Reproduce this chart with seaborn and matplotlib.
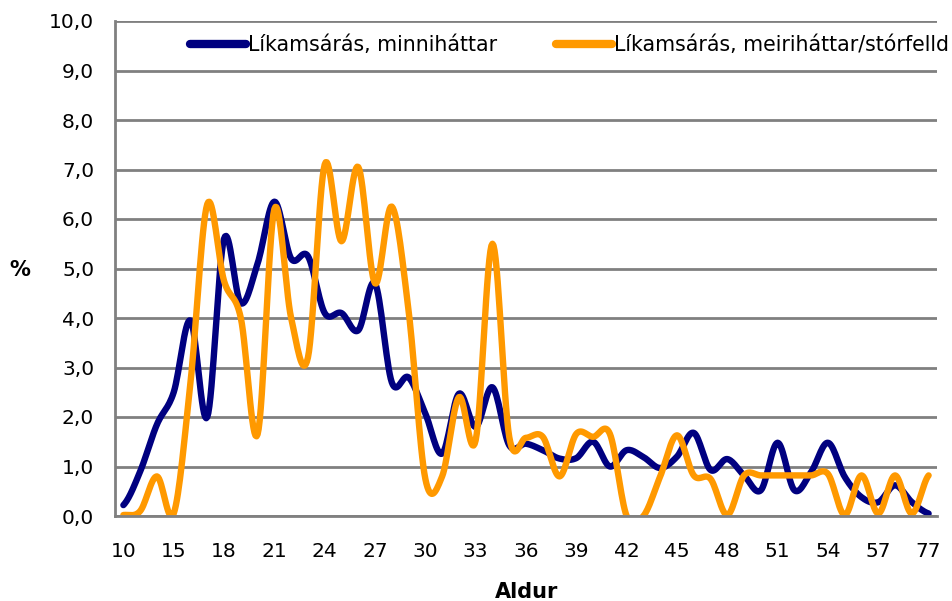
import numpy as np
import pandas as pd
import seaborn as sns
import matplotlib
matplotlib.use("Agg")
import matplotlib.pyplot as plt

# ---- data ----
ages = [10, 13, 14, 15, 16, 17, 18, 19, 20, 21, 22, 23, 24, 25, 26, 27, 28, 29,
        30, 31, 32, 33, 34, 35, 36, 37, 38, 39, 40, 41, 42, 43, 44, 45, 46, 47,
        48, 49, 50, 51, 52, 53, 54, 55, 56, 57, 60, 65, 77]
label_minor = "Líkamsárás, minniháttar"
label_major = "Líkamsárás, meiriháttar/stórfelld"
minor_vals = [0.22, 0.9, 1.85, 2.5, 3.95, 2.0, 5.6, 4.3, 5.1, 6.35, 5.2, 5.25,
              4.1, 4.1, 3.75, 4.7, 2.7, 2.8, 2.07, 1.26, 2.47, 1.8, 2.6, 1.43,
              1.46, 1.33, 1.16, 1.17, 1.5, 1.0, 1.33, 1.19, 0.97, 1.2, 1.68,
              0.93, 1.15, 0.82, 0.52, 1.48, 0.52, 0.89, 1.48, 0.79, 0.38, 0.28,
              0.62, 0.28, 0.05]
major_vals = [0.02, 0.1, 0.8, 0.05, 2.7, 6.3, 4.75, 4.0, 1.65, 6.2, 4.0, 3.2,
              7.1, 5.55, 7.05, 4.7, 6.25, 4.15, 0.75, 0.8, 2.4, 1.53, 5.5, 1.6,
              1.58, 1.6, 0.8, 1.66, 1.6, 1.66, 0.0, 0.0, 0.8, 1.63, 0.82, 0.75,
              0.02, 0.82, 0.82, 0.82, 0.82, 0.82, 0.85, 0.02, 0.82, 0.05, 0.82,
              0.05, 0.82]
y_ticks = [0, 1, 2, 3, 4, 5, 6, 7, 8, 9, 10]
colors = {label_minor: "#000080", label_major: "#FF9900"}


def smooth(values, steps=16):
    """Excel-like smoothed line (Catmull-Rom Bezier) through the category points."""
    y = np.asarray(values, dtype=float)
    n = len(y)
    yp = np.concatenate([[y[0]], y, [y[-1]]])
    xs, ys = [], []
    t = np.linspace(0, 1, steps, endpoint=False)
    for i in range(n - 1):
        p0, p1, p2, p3 = yp[i], yp[i + 1], yp[i + 2], yp[i + 3]
        c1 = p1 + (p2 - p0) / 6.0
        c2 = p2 - (p3 - p1) / 6.0
        b = ((1 - t) ** 3) * p1 + 3 * ((1 - t) ** 2) * t * c1 + 3 * (1 - t) * t ** 2 * c2 + t ** 3 * p2
        xs.append(i + t)
        ys.append(b)
    xs.append([n - 1])
    ys.append([y[-1]])
    return np.concatenate(xs), np.concatenate(ys)


frames = []
for name, vals in [(label_minor, minor_vals), (label_major, major_vals)]:
    sx, sy = smooth(vals)
    frames.append(pd.DataFrame({"pos": sx, "value": sy, "series": name}))
df = pd.concat(frames, ignore_index=True)

sns.set_style("white")
plt.rcParams["font.family"] = ["DejaVu Sans"]
plt.rcParams["text.color"] = "black"
plt.rcParams["xtick.color"] = "black"
plt.rcParams["ytick.color"] = "black"

fig = plt.figure(figsize=(9.52, 6.01), dpi=100)
ax = fig.add_axes([115 / 952, 1 - 516 / 601, (937 - 115) / 952, (516 - 21) / 601])

sns.lineplot(data=df, x="pos", y="value", hue="series", palette=colors,
             hue_order=[label_minor, label_major], linewidth=4.6,
             estimator=None, sort=False, ax=ax, legend=True)

grey = "#808080"
ax.set_xlim(-0.5, len(ages) - 0.5)
ax.set_ylim(0, 10)

# x axis: labels every 3rd category, tick marks at category boundaries
major_pos = list(range(0, len(ages), 3))
ax.set_xticks(major_pos)
ax.set_xticklabels([str(ages[i]) for i in major_pos], fontsize=14.5, color="black")
ax.set_xticks(np.arange(-0.5, len(ages), 1.0), minor=True)
ax.tick_params(axis="x", which="major", length=0, pad=19, labelcolor="black")
ax.tick_params(axis="x", which="minor", length=5, width=1.6, color=grey, direction="out")

ax.set_yticks(y_ticks)
ax.set_yticklabels([f"{v:.1f}".replace(".", ",") for v in y_ticks], fontsize=14.5, color="black")
ax.tick_params(axis="y", length=5, width=1.6, color=grey, pad=10, labelcolor="black")

ax.yaxis.grid(True, color=grey, linewidth=2)
ax.xaxis.grid(False)
ax.set_axisbelow(True)
for s in ["top", "right"]:
    ax.spines[s].set_visible(False)
for s in ["left", "bottom"]:
    ax.spines[s].set_color(grey)
    ax.spines[s].set_linewidth(2)

ax.set_xlabel("")
ax.set_ylabel("")
fig.text(527 / 952, 1 - 592 / 601, "Aldur", ha="center", va="center",
         fontsize=15, fontweight="bold", color="black")
fig.text(20 / 952, 1 - 270 / 601, "%", ha="center", va="center",
         fontsize=15, fontweight="bold", color="black")

handles, labels = ax.get_legend_handles_labels()
leg = ax.legend(handles, labels, loc="center left",
                bbox_to_anchor=(190 / 952, 1 - 45 / 601), bbox_transform=fig.transFigure,
                ncol=2, frameon=False, fontsize=14.8, handlelength=2.7,
                handletextpad=0.1, columnspacing=2.9, borderpad=0, borderaxespad=0)
for txt in leg.get_texts():
    txt.set_color("black")
for lh in leg.get_lines():
    lh.set_linewidth(6)
    lh.set_solid_capstyle("round")

fig.savefig("out.png", dpi=100)
